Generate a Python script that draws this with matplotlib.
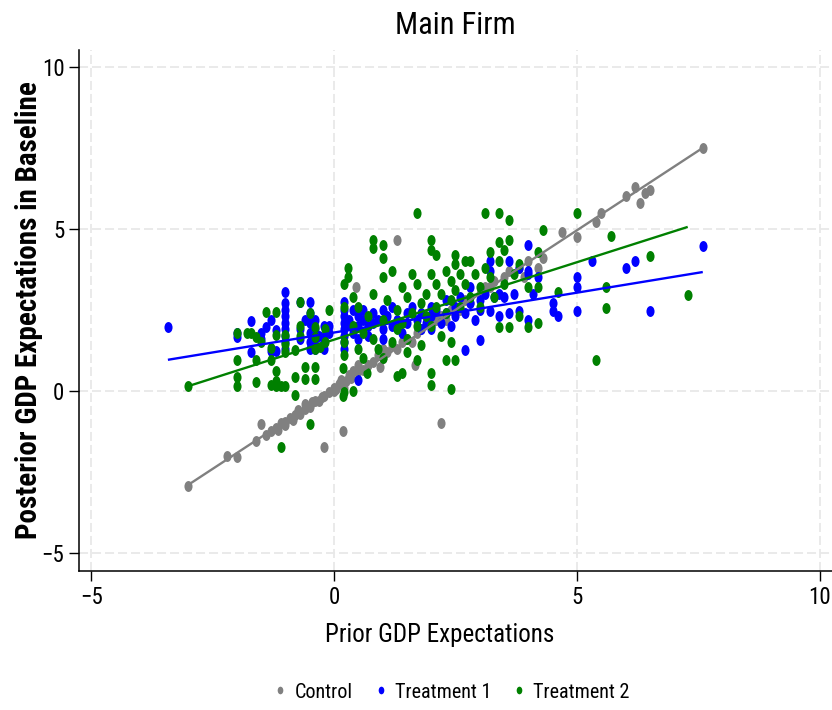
import matplotlib
matplotlib.use("Agg")
import matplotlib.pyplot as plt
from matplotlib import font_manager as fm
from matplotlib.markers import MarkerStyle
from matplotlib.transforms import Affine2D
from matplotlib.lines import Line2D
import numpy as np

# ---------------- data ----------------
control_pts = [(-3.0,-2.95),(-2.2,-2.0),(-2.0,-2.05),(-1.6,-1.55),(-1.5,-1.02),(-1.4,-1.35),
    (-1.3,-1.25),(-1.2,-1.15),(-1.15,-1.2),(-1.1,-1.0),(-1.0,-0.95),(-1.0,-1.05),(-0.9,-0.85),
    (-0.85,-0.9),(-0.8,-0.75),(-0.75,-0.6),(-0.7,-0.7),(-0.6,-0.55),(-0.6,-0.4),(-0.5,-0.5),
    (-0.45,-0.35),(-0.4,-0.3),(-0.3,-0.3),(-0.25,-0.2),(-0.2,-0.15),(-0.2,-1.73),(-0.1,-0.05),
    (0.0,0.0),(0.0,0.1),(0.05,0.05),(0.1,0.2),(0.15,0.35),(0.19,-1.23),(0.2,0.1),(0.25,0.3),
    (0.3,0.5),(0.35,0.4),(0.4,0.6),(0.45,3.2),(0.5,0.6),(0.5,0.8),(0.6,0.65),(0.7,0.8),
    (0.8,0.9),(0.9,1.1),(0.95,0.74),(1.0,1.0),(1.0,1.3),(1.1,1.2),(1.2,1.4),(1.3,4.66),
    (1.3,1.3),(1.4,1.5),(1.5,1.6),(1.6,1.5),(1.67,0.8),(1.7,1.8),(1.8,1.9),(2.0,2.0),
    (2.1,2.2),(2.2,-1.0),(2.2,2.3),(2.3,2.2),(2.4,2.5),(2.5,2.6),(2.6,2.5),(2.7,2.8),
    (2.8,2.7),(3.0,3.0),(3.1,3.2),(3.2,3.2),(3.3,3.4),(3.5,3.5),(3.6,3.7),(3.8,3.8),
    (3.9,3.5),(4.0,4.0),(4.2,3.8),(4.3,4.1),(4.7,4.9),(5.0,4.75),(5.4,5.2),(5.5,5.5),
    (6.0,6.0),(6.2,6.3),(6.3,5.8),(6.4,6.1),(6.5,6.2),(7.6,7.5)]

treat1_pts = [(-3.42,1.98),(-2.0,1.67),(-2.0,1.8),(-1.7,2.16),(-1.7,1.2),(-1.5,1.8),(-1.5,1.6),
    (-1.4,1.98),(-1.3,2.2),(-1.2,1.88),(-1.3,1.23),(-1.2,1.23),(-1.0,3.06),(-1.0,2.7),
    (-1.0,2.5),(-1.0,2.3),(-1.0,2.1),(-1.0,1.9),(-1.0,1.7),(-1.0,1.5),(-1.0,1.3),(-0.7,2.75),
    (-0.5,2.75),(-0.6,2.2),(-0.7,1.9),(-0.7,1.6),(-0.5,2.4),(-0.5,2.1),(-0.5,1.8),(-0.5,1.5),
    (-0.5,1.3),(-0.4,2.2),(-0.4,1.9),(-0.4,1.6),(-0.4,1.3),(-0.3,1.7),(-0.2,2.0),(-0.2,1.6),
    (-0.2,1.3),(-0.1,2.0),(-0.1,1.8),
    (0.2,2.75),(0.2,2.5),(0.2,2.3),(0.2,2.1),(0.2,1.9),(0.2,1.7),(0.2,1.5),(0.2,1.3),
    (0.3,2.2),(0.35,2.0),(0.4,2.5),(0.4,1.8),(0.5,2.3),(0.5,2.0),(0.5,1.6),(0.5,0.34),
    (0.6,2.5),(0.6,2.2),(0.7,2.0),(0.7,1.7),(0.8,2.4),(0.8,2.1),(0.9,2.2),(1.0,2.5),
    (1.0,1.9),(1.0,1.6),(1.1,2.3),(1.2,2.0),(1.2,2.6),(1.3,2.2),(1.4,1.8),(1.5,2.4),
    (1.5,2.1),(1.6,2.6),(1.7,2.2),(1.8,1.9),(1.8,2.4),(1.9,2.1),(2.0,2.6),(2.0,2.3),
    (2.0,1.9),(2.1,2.5),(2.2,2.1),(2.3,2.8),(2.3,2.4),(2.4,2.0),(2.5,2.6),(2.5,2.3),
    (2.6,2.9),(2.7,2.4),(2.7,1.27),(2.8,3.2),(2.8,2.7),(2.9,2.2),(3.0,2.8),(3.0,2.5),
    (3.0,1.57),(3.1,3.0),(3.2,4.0),(3.2,3.7),(3.2,2.45),(3.3,2.9),(3.4,3.0),(3.4,2.3),
    (3.5,2.9),(3.6,4.0),(3.6,2.4),(3.7,3.0),(3.8,3.8),(3.8,2.45),(4.0,4.5),(4.0,3.7),
    (4.0,3.6),(4.0,2.2),(4.1,3.0),(4.2,3.5),(4.5,2.7),(4.5,2.45),(4.6,2.3),(5.0,3.5),
    (5.0,3.2),(5.0,2.47),(5.3,4.0),(6.0,3.8),(6.2,4.0),(6.5,2.47),(7.6,4.48)]

treat2_pts = [(-3.0,0.15),(-2.0,1.8),(-2.0,0.96),(-2.0,0.43),(-2.0,0.15),(-1.8,1.8),(-1.7,1.8),
    (-1.6,1.67),(-1.6,0.96),(-1.6,0.28),(-1.4,2.44),(-1.2,2.44),(-1.5,1.5),(-1.3,1.33),
    (-1.3,0.96),(-1.2,1.73),(-1.2,0.6),(-1.2,0.3),(-1.3,0.18),(-1.2,0.15),(-1.1,0.15),
    (-1.0,0.15),(-1.0,1.73),(-1.0,1.45),(-1.0,1.2),(-0.8,1.26),(-0.8,0.43),(-0.8,-0.13),
    (-0.7,2.75),(-0.7,2.0),(-0.7,1.7),(-0.6,0.74),(-0.6,0.37),(-0.5,2.4),(-0.4,0.74),
    (-0.4,0.37),(-0.4,1.98),(-0.4,1.65),(-0.4,1.3),(-0.29,1.36),(-0.18,1.9),(-0.18,1.5),
    (-0.1,2.5),(-1.1,-1.73),(-0.5,-1.02),
    (0.19,-0.15),(0.2,-0.05),(0.4,0.0),(0.67,0.55),(0.19,0.7),(0.2,1.1),(0.2,1.5),(0.2,2.6),
    (0.2,3.3),(0.29,3.8),(0.29,3.5),(0.4,2.9),(0.4,2.0),(0.5,1.3),(0.5,2.6),(0.6,1.0),
    (0.6,1.8),(0.7,2.3),(0.8,4.66),(0.8,4.4),(0.8,3.0),(0.8,1.6),(0.9,1.3),(1.0,4.5),
    (1.0,4.1),(1.0,3.5),(1.0,2.2),(1.0,1.0),(1.1,2.8),(1.2,3.7),(1.2,1.5),(1.3,0.46),
    (1.3,2.5),(1.3,1.9),(1.4,0.55),(1.4,3.2),(1.4,2.1),(1.5,2.9),(1.5,1.6),(1.5,1.2),
    (1.6,3.6),(1.6,2.4),(1.7,5.5),(1.7,0.96),(1.7,3.3),(1.7,2.0),(1.8,2.7),(1.8,1.4),
    (1.9,3.0),(1.9,2.3),(2.0,4.66),(2.0,4.35),(2.0,3.6),(2.0,2.0),(2.0,0.55),(2.0,0.18),
    (2.1,4.2),(2.1,3.3),(2.1,2.6),(2.2,3.0),(2.2,1.7),(2.3,0.96),(2.3,3.7),(2.3,2.4),
    (2.4,3.4),(2.4,2.8),(2.4,1.5),(2.4,0.06),(2.5,4.2),(2.5,3.9),(2.5,3.1),(2.5,0.96),
    (2.6,3.6),(2.6,2.6),(2.7,4.0),(2.7,3.3),(2.8,4.0),(2.8,2.9),(2.9,3.6),(3.0,3.2),
    (3.0,2.6),(3.1,5.5),(3.1,3.8),(3.2,4.3),(3.2,3.5),(3.3,2.9),(3.4,5.5),(3.4,4.6),
    (3.4,4.0),(3.4,1.98),(3.5,4.35),(3.5,3.3),(3.6,5.28),(3.6,4.66),(3.6,1.98),(3.7,3.6),
    (3.8,2.3),(3.8,3.9),(4.0,3.2),(4.0,1.98),(4.2,4.3),(4.2,3.2),(4.2,2.1),(4.3,4.97),
    (4.6,3.05),(5.0,5.5),(5.4,0.96),(5.6,3.2),(5.6,2.56),(5.7,4.78),(6.5,4.17),(7.28,2.96)]

# linear fits: (x_start, x_end, slope, intercept)
control_fit = (-3.0, 7.59, 0.982, 0.046)
treat1_fit = (-3.42, 7.59, 0.246, 1.80)
treat2_fit = (-3.0, 7.28, 0.478, 1.58)

group_labels = ["Control", "Treatment 1", "Treatment 2"]
group_colors = ["#808080", "#0000FF", "#008000"]
x_ticks = [-5, 0, 5, 10]
y_ticks = [-5, 0, 5, 10]

# ---------------- fonts ----------------
def pick(names):
    for n in names:
        try:
            fm.findfont(fm.FontProperties(family=n), fallback_to_default=False)
            return n
        except Exception:
            pass
    return "DejaVu Sans"

NARROW = pick(["Liberation Sans Narrow", "Roboto Condensed", "Open Sans Condensed", "Liberation Sans"])

W, H = 832, 710
fig = plt.figure(figsize=(W / 100, H / 100), dpi=100)
ax = fig.add_axes([79 / W, (H - 571) / H, (W - 79) / W, (571 - 50) / H])
ax.set_xlim(-5.25, 10.25)
ax.set_ylim(-5.56, 10.52)

ell = MarkerStyle("o", transform=Affine2D().scale(0.74, 1.0))

for pts, col in zip([control_pts, treat1_pts, treat2_pts], group_colors):
    a = np.array(pts)
    ax.scatter(a[:, 0], a[:, 1], s=62, marker=ell, color=col, linewidths=0, zorder=3)

for fit, col in zip([control_fit, treat1_fit, treat2_fit], group_colors):
    x0, x1, b, c = fit
    xs = np.array([x0, x1])
    ax.plot(xs, b * xs + c, color=col, lw=1.7, zorder=4, solid_capstyle="butt")

ax.set_xticks(x_ticks)
ax.set_yticks(y_ticks)
ax.grid(True, color="#E8E8E8", lw=1.3, linestyle=(0, (5, 2.2)), zorder=0)
ax.set_axisbelow(True)
for s in ["top", "right"]:
    ax.spines[s].set_visible(False)
for s in ["left", "bottom"]:
    ax.spines[s].set_linewidth(1.1)
ax.tick_params(axis="both", length=7.5, width=1.0, pad=3, labelsize=16.5)
for lab in ax.get_xticklabels() + ax.get_yticklabels():
    lab.set_fontfamily(NARROW)

fig.text(455 / W, 1 - 25 / H, "Main Firm", ha="center", va="center", fontsize=22, family=NARROW)
fig.text(440 / W, 1 - 635 / H, "Prior GDP Expectations", ha="center", va="center",
         fontsize=18, family=NARROW)
fig.text(29 / W, 1 - 310 / H, "Posterior GDP Expectations in Baseline", ha="center", va="center",
         rotation=90, fontsize=21, family=NARROW, fontweight="bold")

handles = [Line2D([], [], marker=ell, linestyle="", color=c, markersize=5.5, markeredgewidth=0)
           for c in group_colors]
fig.legend(handles, group_labels, loc="center", bbox_to_anchor=(452 / W, 1 - 692 / H), ncol=3,
           frameon=False, handlelength=0.6, handletextpad=0.4, columnspacing=1.1,
           prop=fm.FontProperties(family=NARROW, size=14.5))

fig.savefig("out.png", dpi=100)
